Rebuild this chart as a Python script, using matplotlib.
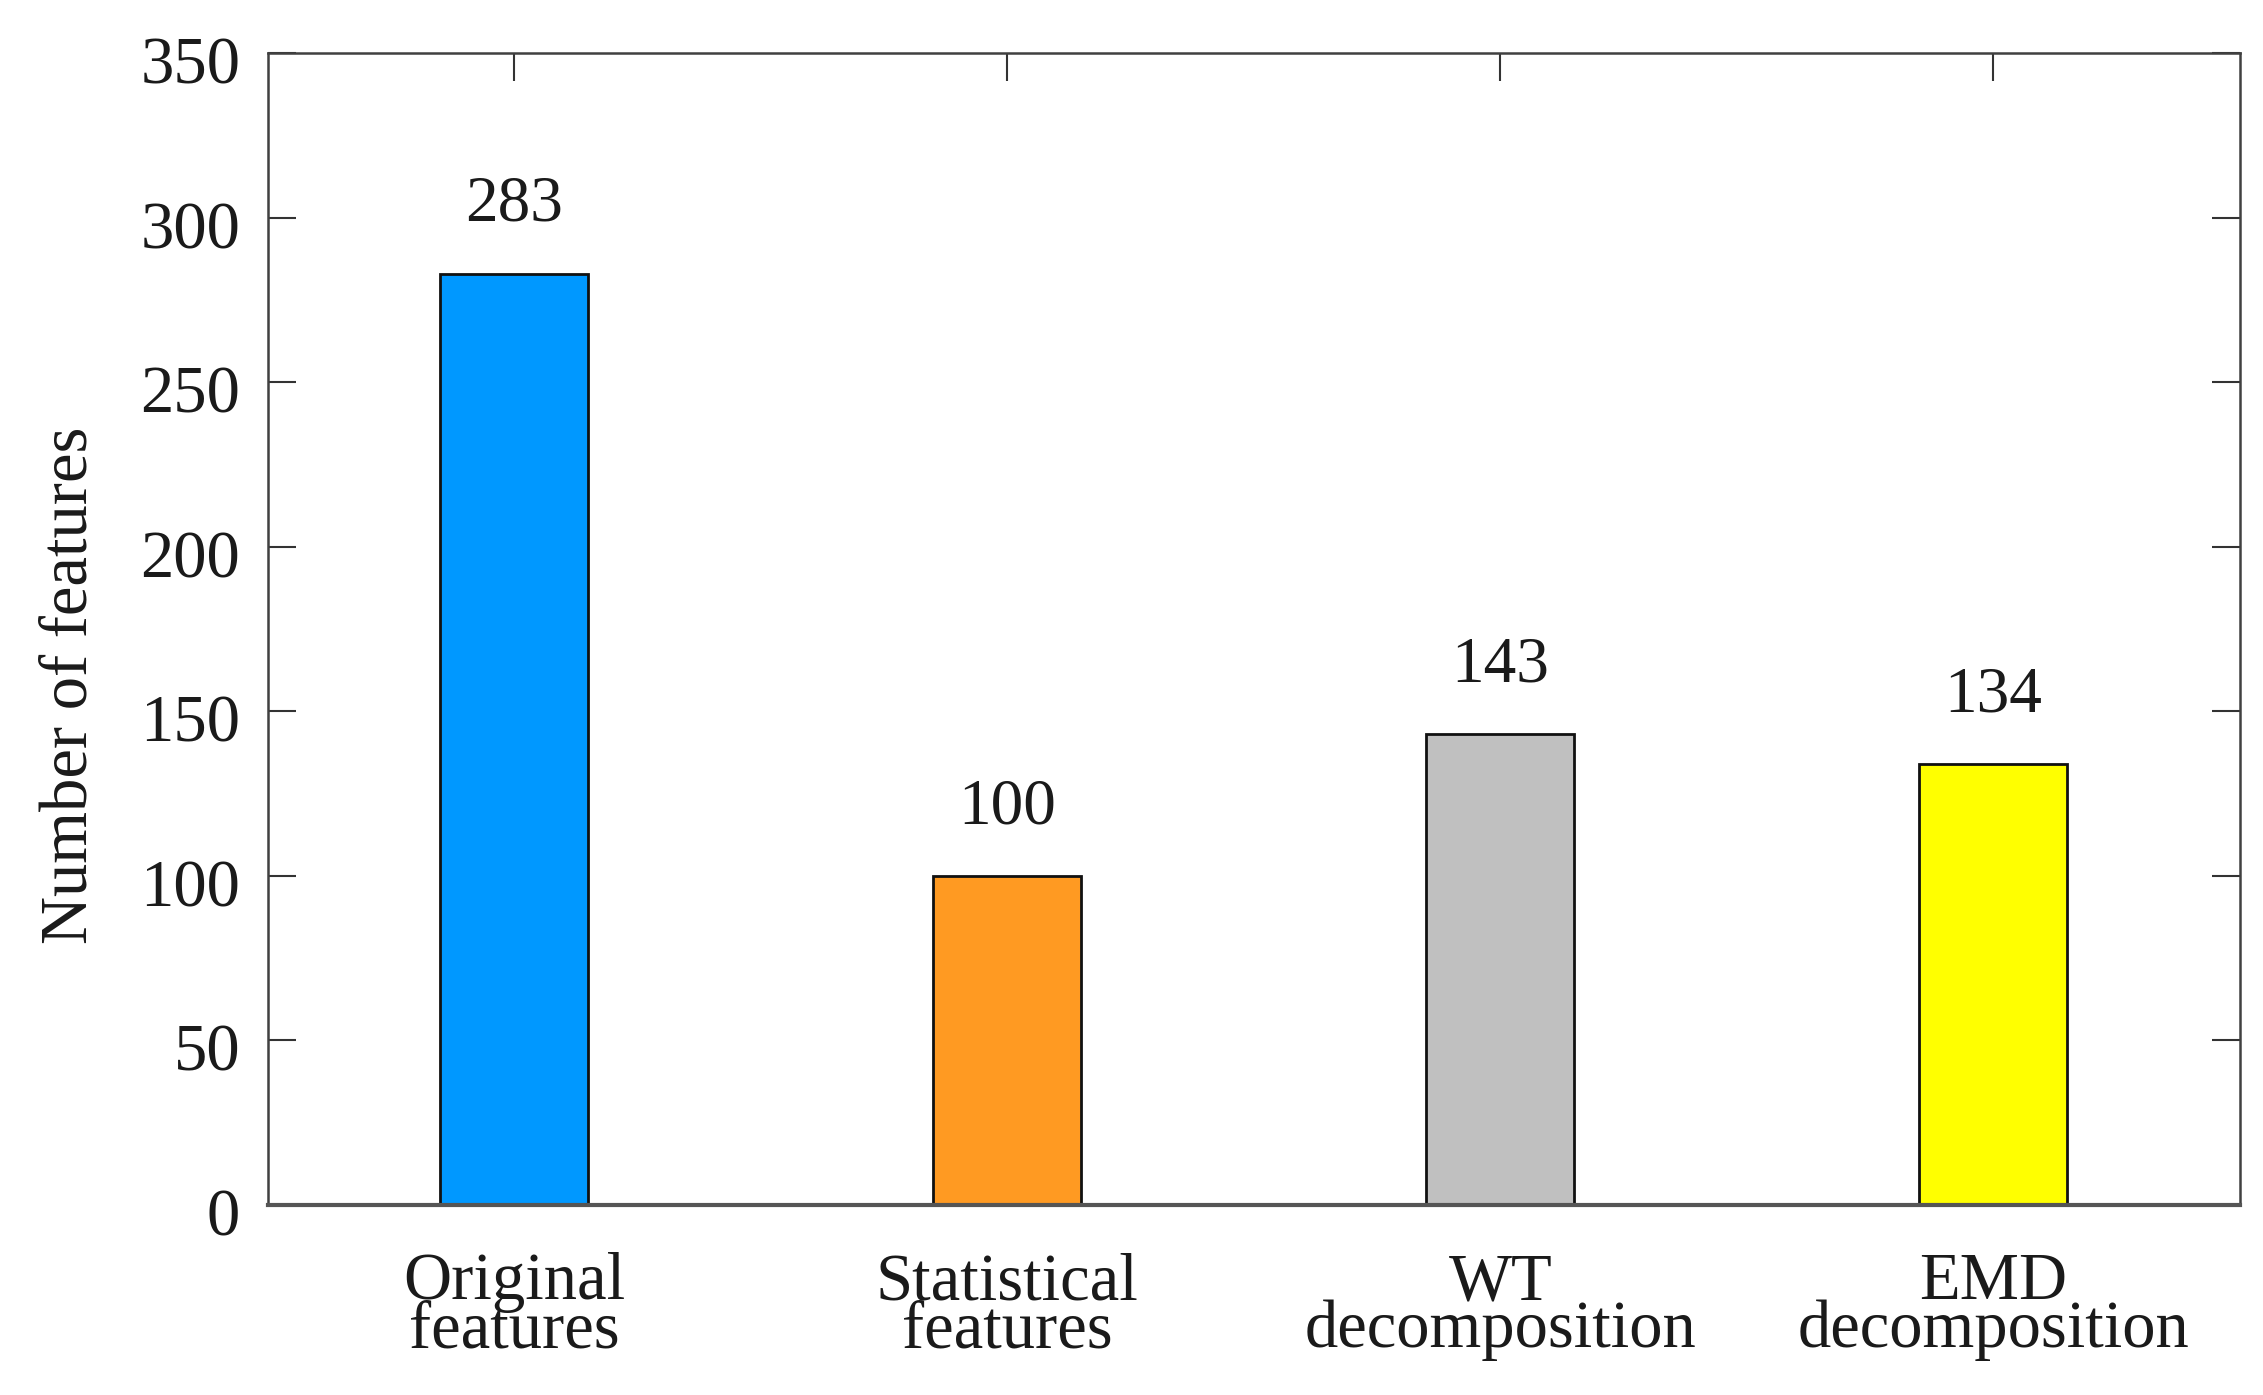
import matplotlib.pyplot as plt
import matplotlib.transforms as mtransforms

# Chart data
categories = ["Original\nfeatures", "Statistical\nfeatures",
              "WT\ndecomposition", "EMD\ndecomposition"]
feature_counts = [283, 100, 143, 134]
bar_colors = ["#0098FF", "#FF9A22", "#C0C0C0", "#FFFF00"]
y_ticks = [0, 50, 100, 150, 200, 250, 300, 350]

plt.rcParams['font.family'] = ['Liberation Serif', 'DejaVu Serif']

fig = plt.figure(figsize=(22.63, 13.95), dpi=100)
ax = fig.add_axes([0.1184, 0.1362, 0.8714, 0.8258])

positions = list(range(1, len(categories) + 1))
ax.bar(positions, feature_counts, width=0.3, color=bar_colors,
       edgecolor="#111111", linewidth=2, zorder=2)

# value labels above each bar
for x, v in zip(positions, feature_counts):
    ax.text(x, v + 16, str(v), ha="center", va="baseline",
            fontsize=47, color="#1a1a1a")

ax.set_xlim(0.5, 4.5)
ax.set_ylim(0, 350)
ax.set_yticks(y_ticks)
ax.set_xticks(positions)
ax.set_xticklabels(categories, linespacing=0.72)

ax.tick_params(axis="both", direction="in", length=20, width=1.5,
               color="#333333", labelsize=48, labelcolor="#1a1a1a",
               top=True, right=True)
ax.tick_params(axis="x", pad=34)
ax.tick_params(axis="y", pad=20)

# y tick labels sit a little below their ticks in the original
shift = mtransforms.ScaledTranslation(0, -7 / 100, fig.dpi_scale_trans)
for lbl in ax.get_yticklabels():
    lbl.set_transform(lbl.get_transform() + shift)

for side, spine in ax.spines.items():
    spine.set_color("#404040")
    spine.set_linewidth(1.8)
ax.spines["bottom"].set_linewidth(3)
ax.spines["bottom"].set_color("#555555")

ax.set_ylabel("Number of features", fontsize=48, color="#1a1a1a")
ax.yaxis.set_label_coords(-0.085, 0.451)

fig.savefig("out.png", dpi=100)
